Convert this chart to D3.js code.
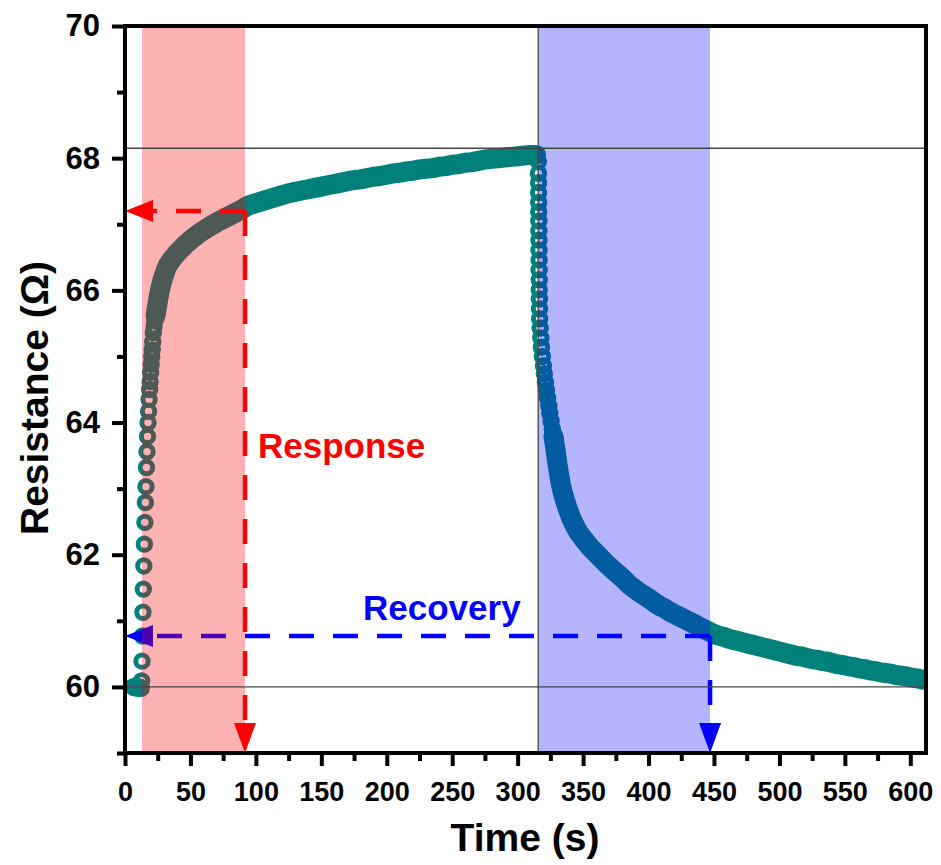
<!DOCTYPE html>
<html>
<head>
<meta charset="utf-8">
<script src="https://cdn.jsdelivr.net/npm/d3@7"></script>
<style>
  body { margin: 0; background: #fff; }
  text { font-family: Arial, "Liberation Sans", sans-serif; font-weight: bold; }
</style>
</head>
<body>
<svg id="chart" width="941" height="865"></svg>
<script>
// resistance readings [time (s), resistance (ohm)]
const baseline = [[6, 60.00], [7, 59.99], [8, 60.01], [9, 60.00], [10, 59.98], [11, 60.00], [12, 59.99]];

const rise = [[12.4, 59.98], [12.7, 60.09], [13.0, 60.39], [13.4, 60.77], [13.7, 61.13], [14.0, 61.48],
  [14.4, 61.83], [14.8, 62.16], [15.2, 62.49], [15.6, 62.79], [16.0, 63.03], [16.4, 63.32], [16.8, 63.56],
  [17.2, 63.79], [17.6, 64.00], [18.0, 64.17], [18.4, 64.35], [18.8, 64.50], [19.2, 64.62], [19.6, 64.76],
  [20.0, 64.88], [20.4, 65.00], [20.8, 65.10], [21.2, 65.22], [21.6, 65.36], [22.2, 65.45], [22.8, 65.54]];

const saturate = [[23.4, 65.62], [24.0, 65.70], [24.7, 65.78], [25.4, 65.87],
  [26.2, 65.95], [27.0, 66.03], [28.0, 66.11], [29.0, 66.18], [30.0, 66.24], [31.2, 66.31], [32.5, 66.37],
  [34.0, 66.42], [35.5, 66.46], [37.5, 66.51], [40, 66.57], [43, 66.63], [46, 66.69], [50, 66.76],
  [57, 66.87], [65, 66.97], [73, 67.06], [81, 67.14], [89, 67.22], [92, 67.26], [95, 67.29], [100, 67.32],
  [105, 67.35], [110, 67.38], [115, 67.41], [120, 67.44], [125, 67.47], [130, 67.49], [135, 67.51],
  [140, 67.53], [145, 67.55], [150, 67.57], [155, 67.59], [160, 67.61], [165, 67.63], [170, 67.65],
  [175, 67.67], [180, 67.68], [185, 67.70], [190, 67.72], [195, 67.73], [200, 67.75], [205, 67.77],
  [210, 67.78], [215, 67.80], [220, 67.81], [225, 67.83], [230, 67.84], [235, 67.85], [240, 67.87],
  [245, 67.88], [250, 67.90], [255, 67.91], [260, 67.93], [265, 67.94], [270, 67.96], [275, 67.98],
  [280, 67.99], [285, 68.00], [290, 68.01], [295, 68.02], [300, 68.03], [305, 68.04], [310, 68.05],
  [314, 68.05]];

const drop = [[315.8, 67.95], [315.9, 67.77], [316.0, 67.63], [316.0, 67.48], [316.1, 67.33], [316.1, 67.19],
  [316.2, 67.05], [316.2, 66.90], [316.3, 66.76], [316.3, 66.61], [316.4, 66.46], [316.4, 66.31],
  [316.5, 66.16], [316.5, 66.01], [316.6, 65.87], [316.7, 65.72], [316.8, 65.57], [317.2, 65.43],
  [317.7, 65.28], [318.2, 65.14], [318.9, 65.00], [319.7, 64.86], [320.4, 64.74], [321.2, 64.61],
  [322.0, 64.49], [322.9, 64.37], [323.8, 64.25], [324.6, 64.14], [325.6, 64.02], [326.5, 63.90]];

const recover = [[327.4, 63.79], [328.3, 63.67], [329.2, 63.55], [330.1, 63.42], [331.0, 63.30], [332.0, 63.18], [333.0, 63.07],
  [334.1, 62.97], [335.3, 62.88], [336.6, 62.80], [338.0, 62.71], [339.5, 62.63], [341.0, 62.55],
  [342.7, 62.48], [344.5, 62.41], [346.5, 62.34], [348.7, 62.28], [351.0, 62.22], [353.5, 62.16],
  [356.0, 62.10], [359.0, 62.04], [362.0, 61.98], [365.5, 61.91], [369, 61.84], [373, 61.77], [377, 61.70],
  [381, 61.63], [385, 61.55], [389, 61.49], [393, 61.43], [397, 61.38], [401, 61.33], [405, 61.27],
  [409, 61.22], [413, 61.18], [417, 61.13], [421, 61.09], [425, 61.05], [429, 61.01], [433, 60.97],
  [437, 60.93], [441, 60.89], [445, 60.85], [449, 60.81], [453, 60.78], [457, 60.76], [461, 60.73],
  [465, 60.71], [469, 60.69], [473, 60.67], [477, 60.65], [481, 60.63], [485, 60.61], [489, 60.59],
  [493, 60.57], [497, 60.55], [501, 60.53], [505, 60.51], [509, 60.49], [513, 60.47], [517, 60.46],
  [521, 60.44], [525, 60.42], [529, 60.41], [533, 60.39], [537, 60.38], [541, 60.36], [545, 60.34],
  [549, 60.33], [553, 60.31], [557, 60.30], [561, 60.28], [565, 60.27], [569, 60.25], [573, 60.24],
  [577, 60.22], [581, 60.21], [585, 60.20], [589, 60.18], [593, 60.17], [597, 60.16], [601, 60.14],
  [605, 60.13], [609, 60.11]];
const lastPoint = [[611.5, 60.09]];

const xMajor = [0, 50, 100, 150, 200, 250, 300, 350, 400, 450, 500, 550, 600];
const xMinor = [25, 75, 125, 175, 225, 275, 325, 375, 425, 475, 525, 575];
const yMajor = [60, 62, 64, 66, 68, 70];
const yMinor = [59, 61, 63, 65, 67, 69];

const responseBand = [13, 91.7];
const recoveryBand = [315.7, 447];
const refLevels = [60.0, 68.15];
const gasOff = 315.7;
const responseMark = [91.7, 67.2];
const recoveryMark = [447, 60.77];

const teal = "#00807a";

const svg = d3.select("#chart");
const x = d3.scaleLinear().domain([0, 612]).range([125, 926]);
const y = d3.scaleLinear().domain([59, 70]).range([753, 26]);

svg.append("defs").append("clipPath").attr("id", "plot")
  .append("rect").attr("x", x(0)).attr("y", y(70))
  .attr("width", x(612) - x(0)).attr("height", y(59) - y(70));

const plot = svg.append("g").attr("clip-path", "url(#plot)");

// dense parts of the scatter merge into a solid band
const line = d3.line().x(d => x(d[0])).y(d => y(d[1]));
[saturate, recover].forEach(seg => {
  plot.append("path").attr("d", line(seg))
    .attr("fill", "none").attr("stroke", teal)
    .attr("stroke-width", 20).attr("stroke-linejoin", "round").attr("stroke-linecap", "round");
});

const allPoints = baseline.concat(rise, saturate, drop, recover, lastPoint);
plot.selectAll("circle.pt").data(allPoints).enter()
  .append("circle").attr("class", "pt")
  .attr("cx", d => x(d[0])).attr("cy", d => y(d[1]))
  .attr("r", 6.2).attr("fill", "none")
  .attr("stroke", teal).attr("stroke-width", 5);

// dashed guides with arrows
function dashed(g, x1, y1, x2, y2, col) {
  g.append("line").attr("x1", x1).attr("y1", y1).attr("x2", x2).attr("y2", y2)
    .attr("stroke", col).attr("stroke-width", 4.5).attr("stroke-dasharray", "25,19");
}
function arrowLeft(g, tipX, tipY, col) {
  g.append("path").attr("d", `M${tipX},${tipY}L${tipX + 28},${tipY - 11}L${tipX + 28},${tipY + 11}Z`).attr("fill", col);
}
function arrowDown(g, tipX, tipY, col) {
  g.append("path").attr("d", `M${tipX},${tipY}L${tipX - 11},${tipY - 30}L${tipX + 11},${tipY - 30}Z`).attr("fill", col);
}

const guides = svg.append("g");
dashed(guides, x(responseMark[0]), y(responseMark[1]), x(0) + 28, y(responseMark[1]), "#ff0000");
dashed(guides, x(responseMark[0]), y(responseMark[1]), x(responseMark[0]), y(59) - 30, "#ff0000");
arrowLeft(guides, x(0), y(responseMark[1]), "#ff0000");
arrowDown(guides, x(responseMark[0]), y(59), "#ff0000");

dashed(guides, x(recoveryMark[0]), y(recoveryMark[1]), x(0) + 28, y(recoveryMark[1]), "#0000ff");
dashed(guides, x(recoveryMark[0]), y(recoveryMark[1]), x(recoveryMark[0]), y(59) - 30, "#0000ff");
arrowLeft(guides, x(0), y(recoveryMark[1]), "#0000ff");
arrowDown(guides, x(recoveryMark[0]), y(59), "#0000ff");

// shaded response / recovery windows
svg.append("rect").attr("x", x(responseBand[0])).attr("y", y(70))
  .attr("width", x(responseBand[1]) - x(responseBand[0])).attr("height", y(59) - y(70))
  .attr("fill", "rgba(255,0,0,0.3)");
svg.append("rect").attr("x", x(recoveryBand[0])).attr("y", y(70))
  .attr("width", x(recoveryBand[1]) - x(recoveryBand[0])).attr("height", y(59) - y(70))
  .attr("fill", "rgba(0,0,255,0.29)");

// reference lines
refLevels.forEach(v => {
  svg.append("line").attr("x1", x(0)).attr("x2", x(612)).attr("y1", y(v)).attr("y2", y(v))
    .attr("stroke", "#444").attr("stroke-width", 1.3);
});
svg.append("line").attr("x1", x(gasOff)).attr("x2", x(gasOff)).attr("y1", y(70)).attr("y2", y(59))
  .attr("stroke", "#444").attr("stroke-width", 1.3);

svg.append("text").attr("x", 258).attr("y", 458).attr("fill", "#ff0000")
  .attr("font-size", 35).text("Response");
svg.append("text").attr("x", 363).attr("y", 620).attr("fill", "#0000ff")
  .attr("font-size", 35).text("Recovery");

// axes
function styleAxis(g) {
  g.select(".domain").remove();
  g.selectAll(".tick line").attr("stroke", "#000").attr("stroke-width", 4);
}
svg.append("g").attr("transform", `translate(0,${y(59)})`)
  .call(d3.axisBottom(x).tickValues(xMinor).tickSize(8).tickFormat(""))
  .call(styleAxis);
svg.append("g").attr("transform", `translate(0,${y(59)})`)
  .call(d3.axisBottom(x).tickValues(xMajor).tickSize(13).tickPadding(16))
  .call(styleAxis)
  .selectAll("text").attr("font-size", 27).attr("fill", "#000")
  .attr("font-family", "Arial, 'Liberation Sans', sans-serif").attr("font-weight", "bold");
svg.append("g").attr("transform", `translate(${x(0)},0)`)
  .call(d3.axisLeft(y).tickValues(yMinor).tickSize(8).tickFormat(""))
  .call(styleAxis);
svg.append("g").attr("transform", `translate(${x(0)},0)`)
  .call(d3.axisLeft(y).tickValues(yMajor).tickSize(13).tickPadding(12))
  .call(styleAxis)
  .selectAll("text").attr("font-size", 31).attr("fill", "#000")
  .attr("font-family", "Arial, 'Liberation Sans', sans-serif").attr("font-weight", "bold");

svg.append("rect").attr("x", x(0)).attr("y", y(70))
  .attr("width", x(612) - x(0)).attr("height", y(59) - y(70))
  .attr("fill", "none").attr("stroke", "#000").attr("stroke-width", 4);

svg.append("text").attr("x", 525).attr("y", 851).attr("text-anchor", "middle")
  .attr("font-size", 39).text("Time (s)");
svg.append("text").attr("transform", "translate(48,398) rotate(-90)").attr("text-anchor", "middle")
  .attr("font-size", 39).text("Resistance (Ω)");
</script>
</body>
</html>
